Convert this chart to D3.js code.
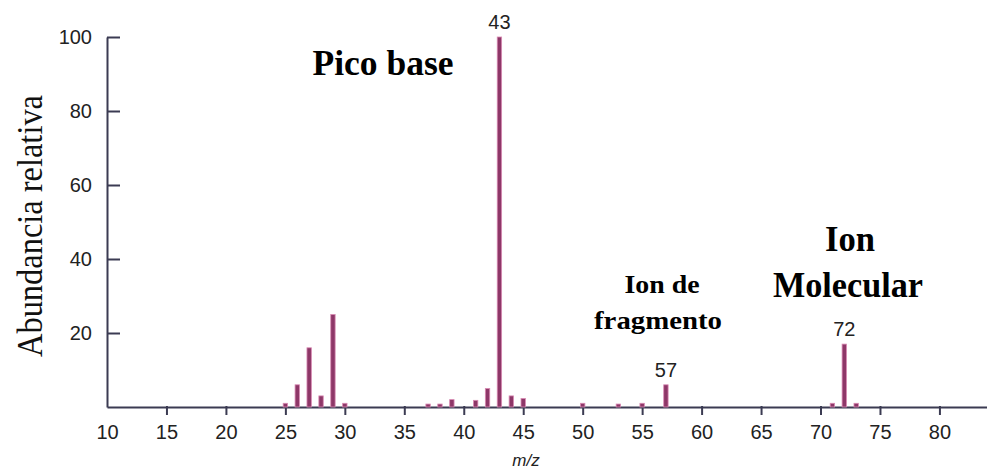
<!DOCTYPE html>
<html lang="es">
<head>
    <meta charset="UTF-8">
    <title>Espectro de masas</title>
    <script src="https://cdn.jsdelivr.net/npm/d3@7"></script>
    <style>
        html, body {
            margin: 0;
            padding: 0;
            background: #ffffff;
        }

        svg {
            display: block;
        }

        .tick text {
            font-family: "Liberation Sans", Arial, sans-serif;
            font-size: 20px;
            fill: #222;
        }

        .serif {
            font-family: "Liberation Serif", "Times New Roman", serif;
        }
    </style>
</head>
<body>
<div id="chart"></div>
<script>
    // picos del espectro (m/z y abundancia relativa)
    let mz = [25, 26, 27, 28, 29, 30, 37, 38, 39, 41, 42, 43, 44, 45, 50, 53, 55, 57, 71, 72, 73];
    let abundance = [1, 6, 16, 3, 25, 1, 0.8, 0.8, 2, 1.8, 5, 100, 3, 2.3, 1, 0.8, 1, 6, 1, 17, 1];

    let xTicks = [10, 15, 20, 25, 30, 35, 40, 45, 50, 55, 60, 65, 70, 75, 80];
    let yTicks = [20, 40, 60, 80, 100];

    // picos con etiqueta numerica
    let labelled = [43, 57, 72];

    let width = 987, height = 469;
    let axisColor = "#3b3b52";

    let svg = d3.select("#chart").append("svg")
        .attr("width", width)
        .attr("height", height);

    let x = d3.scaleLinear().domain([10, 84]).range([107, 987]);
    let y = d3.scaleLinear().domain([0, 100]).range([407, 37]);

    // eje x
    let gx = svg.append("g")
        .attr("transform", "translate(0," + y(0) + ")")
        .call(d3.axisBottom(x).tickValues(xTicks).tickSize(8).tickSizeOuter(0).tickPadding(10));

    gx.select(".domain").attr("stroke", axisColor).attr("stroke-width", 2);
    gx.selectAll(".tick line").attr("stroke", axisColor).attr("stroke-width", 2).attr("y1", -1);
    gx.selectAll(".tick").filter(function (d) { return d === 10; }).select("line").remove();

    // eje y
    let gy = svg.append("g")
        .attr("transform", "translate(" + x(10) + ",0)")
        .call(d3.axisLeft(y).tickValues(yTicks).tickSize(2).tickSizeOuter(0).tickPadding(12));

    gy.select(".domain").attr("stroke", axisColor).attr("stroke-width", 2);
    gy.selectAll(".tick line").attr("stroke", axisColor).attr("stroke-width", 2).attr("x2", 13);
    gy.selectAll(".tick text").attr("x", -15);

    // barras
    let peaks = mz.map(function (m, i) {
        return {mz: m, value: abundance[i]};
    });

    svg.selectAll("rect.peak")
        .data(peaks)
        .enter()
        .append("rect")
        .attr("class", "peak")
        .attr("x", function (d) { return x(d.mz) - 2.2; })
        .attr("y", function (d) { return y(d.value); })
        .attr("width", 4.4)
        .attr("height", function (d) { return y(0) - y(d.value); })
        .style("fill", "#8e3768")
        .style("stroke", "#d98ab3")
        .style("stroke-width", 0.8);

    // etiquetas de los picos
    svg.selectAll("text.peak-label")
        .data(peaks.filter(function (d) { return labelled.indexOf(d.mz) >= 0; }))
        .enter()
        .append("text")
        .attr("class", "peak-label")
        .attr("x", function (d) { return x(d.mz); })
        .attr("y", function (d) { return y(d.value) - 8; })
        .attr("text-anchor", "middle")
        .style("font", "20px 'Liberation Sans', Arial, sans-serif")
        .style("fill", "#222")
        .text(function (d) { return d.mz; });

    // titulos de los ejes
    svg.append("text")
        .attr("class", "serif")
        .attr("transform", "translate(42,226) rotate(-90)")
        .attr("text-anchor", "middle")
        .attr("textLength", 262)
        .attr("lengthAdjust", "spacingAndGlyphs")
        .style("font-size", "36px")
        .style("fill", "#111")
        .text("Abundancia relativa");

    svg.append("text")
        .attr("x", 526)
        .attr("y", 466)
        .attr("text-anchor", "middle")
        .style("font", "italic 17px 'Liberation Sans', Arial, sans-serif")
        .style("fill", "#222")
        .text("m/z");

    // anotaciones: texto, centro, linea base, tamaño, ancho
    let notes = [
        ["Pico base", 383, 75, 35, 141],
        ["Ion de", 662, 293, 25, 75],
        ["fragmento", 658, 329, 25, 128],
        ["Ion", 850, 251, 35, 50],
        ["Molecular", 848, 297, 35, 150]
    ];

    svg.selectAll("text.note")
        .data(notes)
        .enter()
        .append("text")
        .attr("class", "note serif")
        .attr("x", function (d) { return d[1]; })
        .attr("y", function (d) { return d[2]; })
        .attr("text-anchor", "middle")
        .attr("textLength", function (d) { return d[4]; })
        .attr("lengthAdjust", "spacingAndGlyphs")
        .style("font-size", function (d) { return d[3] + "px"; })
        .style("font-weight", "700")
        .style("fill", "#000")
        .text(function (d) { return d[0]; });
</script>
</body>
</html>
